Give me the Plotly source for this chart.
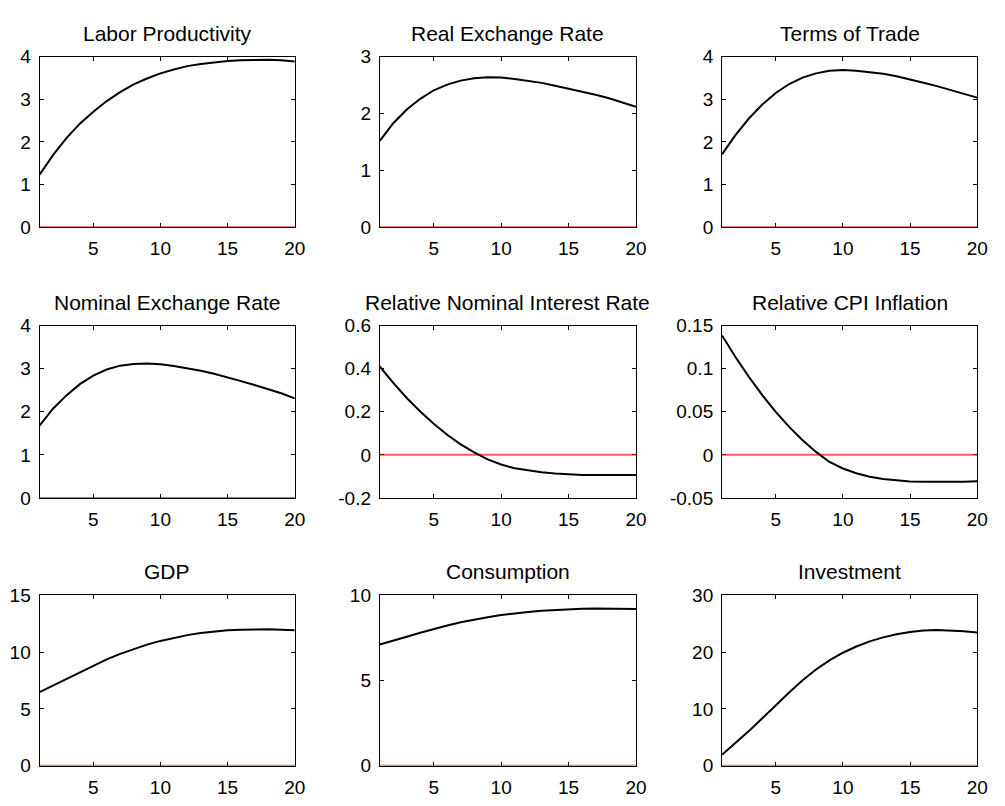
import plotly.graph_objects as go

# ---------------- data ----------------
periods = list(range(1, 21))

titles = [
    "Labor Productivity", "Real Exchange Rate", "Terms of Trade",
    "Nominal Exchange Rate", "Relative Nominal Interest Rate", "Relative CPI Inflation",
    "GDP", "Consumption", "Investment",
]

labor_productivity = [1.23, 1.69, 2.09, 2.43, 2.71, 2.96, 3.17, 3.35, 3.49, 3.61,
                      3.70, 3.78, 3.83, 3.87, 3.90, 3.92, 3.93, 3.93, 3.92, 3.89]
real_exchange_rate = [1.52, 1.83, 2.07, 2.26, 2.41, 2.51, 2.58, 2.62, 2.64, 2.635,
                      2.61, 2.58, 2.54, 2.49, 2.44, 2.39, 2.33, 2.27, 2.20, 2.12]
terms_of_trade = [1.71, 2.16, 2.55, 2.88, 3.15, 3.36, 3.51, 3.61, 3.67, 3.69,
                  3.67, 3.64, 3.60, 3.54, 3.47, 3.39, 3.31, 3.22, 3.13, 3.04]
nominal_exchange_rate = [1.68, 2.07, 2.38, 2.64, 2.84, 2.98, 3.07, 3.11, 3.12, 3.10,
                         3.06, 3.01, 2.95, 2.88, 2.80, 2.71, 2.62, 2.53, 2.43, 2.31]
relative_interest_rate = [0.41, 0.334, 0.264, 0.201, 0.144, 0.093, 0.049, 0.011, -0.021, -0.045,
                          -0.062, -0.073, -0.081, -0.086, -0.090, -0.093, -0.094, -0.095, -0.094, -0.093]
relative_cpi_inflation = [0.1385, 0.1135, 0.0904, 0.0692, 0.0499, 0.0325, 0.0170, 0.0034, -0.0083, -0.0158,
                          -0.0213, -0.0253, -0.0281, -0.0298, -0.0308, -0.0313, -0.0315, -0.0315, -0.0312, -0.0306]
gdp = [6.49, 7.06, 7.65, 8.25, 8.82, 9.36, 9.85, 10.28, 10.66, 10.99,
       11.27, 11.50, 11.68, 11.82, 11.92, 11.98, 12.01, 12.01, 11.98, 11.92]
consumption = [7.12, 7.33, 7.57, 7.81, 8.03, 8.23, 8.42, 8.58, 8.72, 8.84,
               8.94, 9.02, 9.09, 9.14, 9.18, 9.21, 9.23, 9.23, 9.22, 9.20]
investment = [1.94, 4.0, 6.1, 8.35, 10.65, 12.9, 15.05, 16.95, 18.55, 19.9,
              21.0, 21.9, 22.6, 23.15, 23.55, 23.8, 23.9, 23.85, 23.7, 23.45]

zero_line = [0] * len(periods)

series = [labor_productivity, real_exchange_rate, terms_of_trade,
          nominal_exchange_rate, relative_interest_rate, relative_cpi_inflation,
          gdp, consumption, investment]

y_ranges = [[0, 4], [0, 3], [0, 4], [0, 4], [-0.2, 0.6], [-0.05, 0.15],
            [0, 15], [0, 10], [0, 30]]
y_tickvals = [[0, 1, 2, 3, 4], [0, 1, 2, 3], [0, 1, 2, 3, 4], [0, 1, 2, 3, 4],
              [-0.2, 0, 0.2, 0.4, 0.6], [-0.05, 0, 0.05, 0.1, 0.15],
              [0, 5, 10, 15], [0, 5, 10], [0, 10, 20, 30]]
y_ticktext = [["0", "1", "2", "3", "4"], ["0", "1", "2", "3"], ["0", "1", "2", "3", "4"],
              ["0", "1", "2", "3", "4"], ["-0.2", "0", "0.2", "0.4", "0.6"],
              ["-0.05", "0", "0.05", "0.1", "0.15"], ["0", "5", "10", "15"],
              ["0", "5", "10"], ["0", "10", "20", "30"]]
x_tickvals = [5, 10, 15, 20]
x_ticktext = ["5", "10", "15", "20"]

# ---------------- layout geometry ----------------
W, H = 1005, 806
cols_px = [(40, 298), (384, 643), (730, 988)]
rows_px = [(48, 223), (324, 501), (601, 776)]

FONT = "Arial, 'Liberation Sans', Helvetica, sans-serif"
TICK_SIZE = 19
TITLE_SIZE = 21

fig = go.Figure()
layout = dict(
    width=W, height=H, autosize=False,
    margin=dict(l=0, r=0, t=0, b=0),
    paper_bgcolor="white", plot_bgcolor="white",
    showlegend=False,
    font=dict(family=FONT, size=TICK_SIZE, color="black"),
)
annotations = []

for i in range(9):
    r, c = divmod(i, 3)
    x0, x1 = cols_px[c]
    ytop, ybot = rows_px[r]
    xd = [x0 / W, x1 / W]
    yd = [1 - ybot / H, 1 - ytop / H]
    n = i + 1
    xa = "x" if n == 1 else f"x{n}"
    ya = "y" if n == 1 else f"y{n}"
    xkey = "xaxis" if n == 1 else f"xaxis{n}"
    ykey = "yaxis" if n == 1 else f"yaxis{n}"

    fig.add_trace(go.Scatter(x=periods, y=zero_line, xaxis=xa, yaxis=ya, mode="lines",
                             line=dict(color="rgba(255,0,0,0.65)", width=2),
                             hoverinfo="skip"))
    fig.add_trace(go.Scatter(x=periods, y=series[i], xaxis=xa, yaxis=ya, mode="lines",
                             line=dict(color="black", width=2)))

    layout[xkey] = dict(
        domain=xd, anchor=ya, range=[1, 20],
        tickmode="array", tickvals=x_tickvals, ticktext=x_ticktext,
        ticks="inside", ticklen=4, tickwidth=1, tickcolor="black",
        showline=True, linecolor="black", linewidth=1, mirror="ticks",
        showgrid=False, zeroline=False, layer="below traces",
        tickfont=dict(family=FONT, size=TICK_SIZE, color="black"),
        ticklabelstandoff=4,
    )
    layout[ykey] = dict(
        domain=yd, anchor=xa, range=y_ranges[i],
        tickmode="array", tickvals=y_tickvals[i], ticktext=y_ticktext[i],
        ticks="inside", ticklen=4, tickwidth=1, tickcolor="black",
        showline=True, linecolor="black", linewidth=1, mirror="ticks",
        showgrid=False, zeroline=False, layer="below traces",
        tickfont=dict(family=FONT, size=TICK_SIZE, color="black"),
        ticklabelstandoff=4,
    )
    annotations.append(dict(
        text=titles[i], xref="paper", yref="paper",
        x=(xd[0] + xd[1]) / 2, y=yd[1], xanchor="center", yanchor="bottom",
        yshift=10, showarrow=False,
        font=dict(family=FONT, size=TITLE_SIZE, color="black"),
    ))

layout["annotations"] = annotations
fig.update_layout(**layout)
fig.write_html("out.html")
